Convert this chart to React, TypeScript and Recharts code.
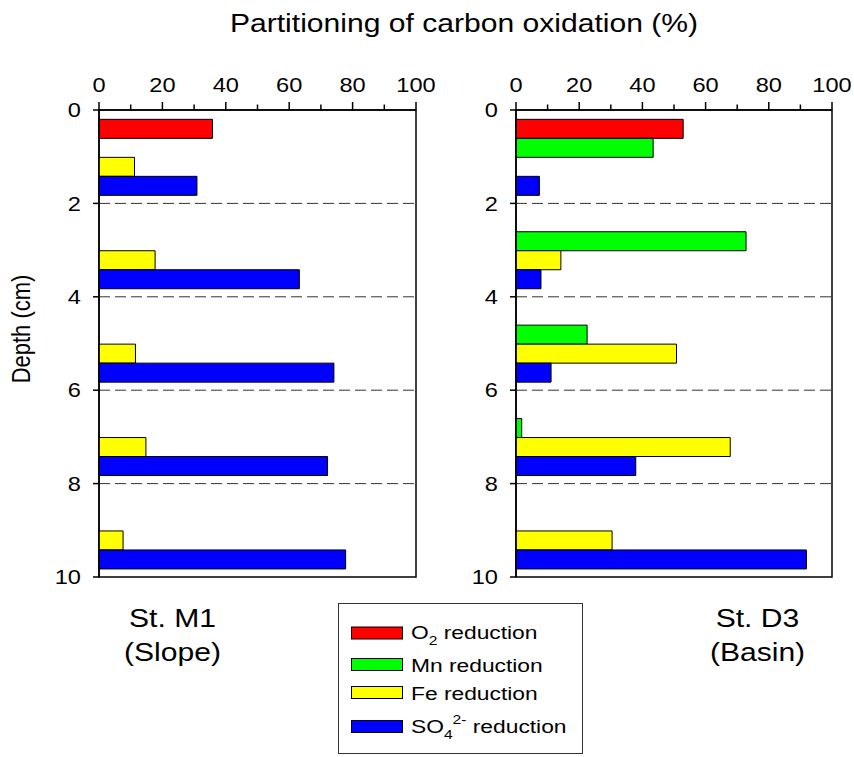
import { BarChart, Bar, XAxis, YAxis, ReferenceLine, ReferenceArea } from 'recharts';

const GROUPS = ['0-2', '2-4', '4-6', '6-8', '8-10'];
const GROUP_TOP = [0, 2, 4, 6, 8];
const DEPTH_TICKS = [0, 2, 4, 6, 8, 10];
const DASHED_DEPTHS = [2, 4, 6, 8];
const PCT_TICKS = [0, 10, 20, 30, 40, 50, 60, 70, 80, 90, 100];

// St. M1 (Slope)
const M1_O2 = [35.8, null, null, null, null];
const M1_MN = [null, null, null, null, null];
const M1_FE = [11.2, 17.7, 11.5, 14.8, 7.6];
const M1_SO4 = [30.9, 63.2, 74.1, 72.1, 77.8];

// St. D3 (Basin)
const D3_O2 = [52.9, null, null, null, null];
const D3_MN = [43.4, 72.8, 22.5, 1.8, null];
const D3_FE = [null, 14.2, 50.8, 67.8, 30.4];
const D3_SO4 = [7.4, 7.9, 11.1, 37.9, 91.9];

const SERIES = [
  { key: 'o2', color: '#ff0000' },
  { key: 'mn', color: '#00ff00' },
  { key: 'fe', color: '#ffff00' },
  { key: 'so4', color: '#0000ff' },
];

const FONT = 'Arial, "Liberation Sans", sans-serif';
const SX = 1.18; // the source figure is a bit stretched sideways

type Row = { group: string; top: number; o2: number | null; mn: number | null; fe: number | null; so4: number | null };

function buildRows(o2: (number | null)[], mn: (number | null)[], fe: (number | null)[], so4: (number | null)[]): Row[] {
  return GROUPS.map((g, i) => ({ group: g, top: GROUP_TOP[i], o2: o2[i], mn: mn[i], fe: fe[i], so4: so4[i] }));
}

const m1Rows = buildRows(M1_O2, M1_MN, M1_FE, M1_SO4);
const d3Rows = buildRows(D3_O2, D3_MN, D3_FE, D3_SO4);

// top axis: long ticks + labels every 20, short ticks at the odd tens
const PctTick = (props: any) => {
  const { x, y, payload } = props;
  const v = payload.value;
  const major = v % 20 === 0;
  return (
    <g>
      <line x1={x} x2={x} y1={y} y2={y - (major ? 8 : 5.5)} stroke="#000" strokeWidth={1.5} />
      {major && (
        <text transform={`translate(${x},${y - 18}) scale(${SX},1)`} textAnchor="middle" fontSize={20} fill="#000" fontFamily={FONT}>
          {v}
        </text>
      )}
    </g>
  );
};

const DepthTick = (props: any) => {
  const { x, y, payload } = props;
  return (
    <text transform={`translate(${x},${y}) scale(${SX},1)`} dy="0.36em" textAnchor="end" fontSize={20} fill="#000" fontFamily={FONT}>
      {payload.value}
    </text>
  );
};

function Panel({ rows, left, yWidth, width }: { rows: Row[]; left: number; yWidth: number; width: number }) {
  return (
    <div style={{ position: 'absolute', left, top: 0 }}>
      <BarChart
        width={width}
        height={600}
        data={rows}
        layout="vertical"
        margin={{ top: 0, right: width - 416, bottom: 23, left: 0 }}
        barGap={0}
        barCategoryGap="10%"
      >
        <XAxis
          type="number"
          orientation="top"
          domain={[0, 100]}
          ticks={PCT_TICKS}
          interval={0}
          height={110}
          axisLine={{ stroke: '#000', strokeWidth: 1.5 }}
          tickLine={false}
          tickSize={0}
          tickMargin={0}
          tick={<PctTick />}
        />
        <YAxis yAxisId="cat" type="category" dataKey="group" hide width={0} />
        <YAxis
          yAxisId="depth"
          type="number"
          dataKey="top"
          domain={[0, 10]}
          ticks={DEPTH_TICKS}
          interval={0}
          allowDataOverflow
          width={yWidth}
          tickSize={6}
          tickMargin={12}
          axisLine={{ stroke: '#000', strokeWidth: 1.5 }}
          tickLine={{ stroke: '#000', strokeWidth: 1.5 }}
          tick={<DepthTick />}
        />
        <ReferenceArea yAxisId="depth" x1={0} x2={100} y1={0} y2={10} fill="none" stroke="#000" strokeWidth={1.5} />
        {DASHED_DEPTHS.map((d) => (
          <ReferenceLine key={d} yAxisId="depth" y={d} stroke="#333" strokeDasharray="11 5" />
        ))}
        {SERIES.map((s) => (
          <Bar key={s.key} yAxisId="cat" dataKey={s.key} fill={s.color} stroke="#000" strokeWidth={1} isAnimationActive={false} />
        ))}
      </BarChart>
    </div>
  );
}

const LEGEND_ROWS = [
  { key: 'o2', rectY: 627, textY: 638.5 },
  { key: 'mn', rectY: 658.5, textY: 671.5 },
  { key: 'fe', rectY: 686.5, textY: 700 },
  { key: 'so4', rectY: 720.5, textY: 732.5 },
];

function legendLabel(key: string) {
  if (key === 'o2')
    return (
      <>
        O<tspan dy={6} fontSize={13}>2</tspan>
        <tspan dy={-6}> reduction</tspan>
      </>
    );
  if (key === 'mn') return 'Mn reduction';
  if (key === 'fe') return 'Fe reduction';
  return (
    <>
      SO<tspan dy={6} fontSize={13}>4</tspan>
      <tspan dy={-15} fontSize={13}>2-</tspan>
      <tspan dy={9}> reduction</tspan>
    </>
  );
}

export default function App() {
  return (
    <div style={{ position: 'absolute', left: 0, top: 0, width: 854, height: 757, background: '#fff', fontFamily: FONT, overflow: 'hidden' }}>
      <Panel rows={m1Rows} left={0} yWidth={99} width={450} />
      <Panel rows={d3Rows} left={416} yWidth={100} width={438} />
      <svg width={854} height={757} style={{ position: 'absolute', left: 0, top: 0, pointerEvents: 'none' }} fontFamily={FONT}>
        <text transform={`translate(464,32) scale(${SX},1)`} textAnchor="middle" fontSize={25.5} fill="#000">
          Partitioning of carbon oxidation (%)
        </text>
        <text transform={`translate(30,329) scale(${SX},1) rotate(-90)`} textAnchor="middle" fontSize={22} fill="#000">
          Depth (cm)
        </text>
        <text transform={`translate(172.5,627) scale(${SX},1)`} textAnchor="middle" fontSize={25.5} fill="#000">St. M1</text>
        <text transform={`translate(172.5,661) scale(${SX},1)`} textAnchor="middle" fontSize={25.5} fill="#000">(Slope)</text>
        <text transform={`translate(757.5,627) scale(${SX},1)`} textAnchor="middle" fontSize={25.5} fill="#000">St. D3</text>
        <text transform={`translate(757.5,661) scale(${SX},1)`} textAnchor="middle" fontSize={25.5} fill="#000">(Basin)</text>

        <rect x={338.5} y={603.5} width={244} height={150} fill="#fff" stroke="#333" strokeWidth={1} />
        {LEGEND_ROWS.map((r) => {
          const s = SERIES.find((q) => q.key === r.key)!;
          return (
            <g key={r.key}>
              <rect x={351.5} y={r.rectY} width={51} height={12} fill={s.color} stroke="#000" strokeWidth={1} />
              <text transform={`translate(411,${r.textY}) scale(1.2,1)`} fontSize={19} fill="#000">
                {legendLabel(r.key)}
              </text>
            </g>
          );
        })}
      </svg>
    </div>
  );
}
